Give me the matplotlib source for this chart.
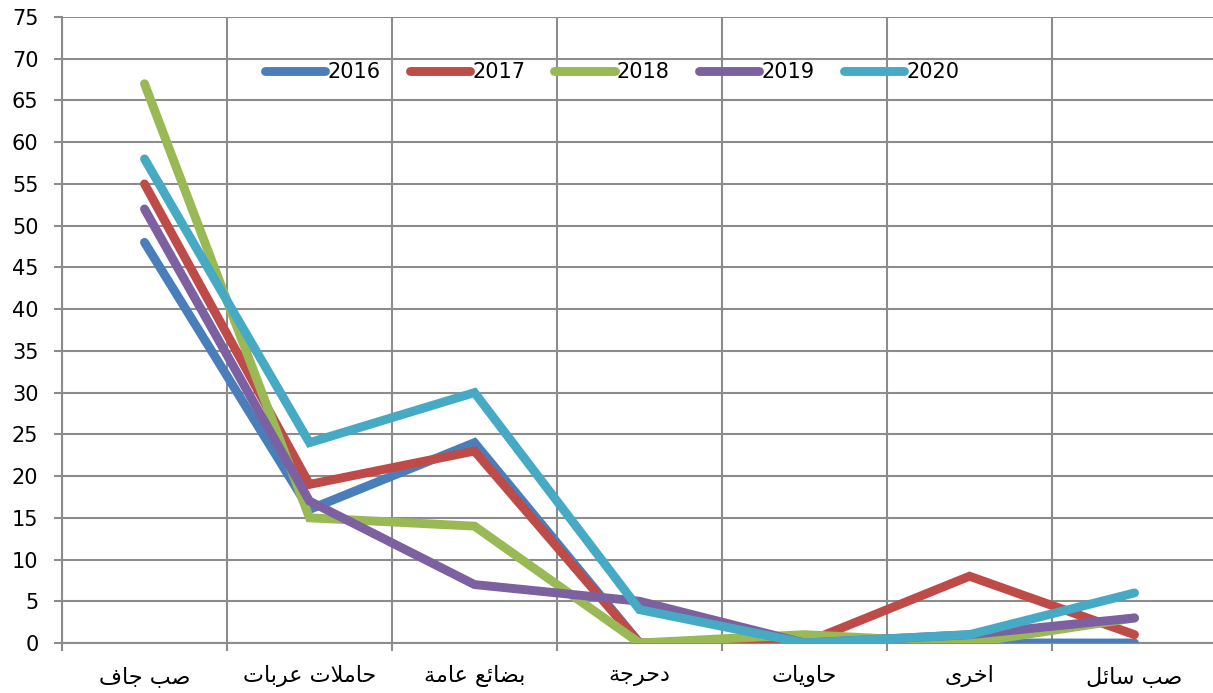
import matplotlib
matplotlib.use("Agg")
import matplotlib.pyplot as plt
import numpy as np

# categories (Arabic), series per year
categories = ['صب جاف', 'حاملات عربات', 'بضائع عامة', 'دحرجة', 'حاويات', 'اخرى', 'صب سائل']
years = ['2016', '2017', '2018', '2019', '2020']
v2016 = [48, 16, 24, 0, 0, 0, 0]
v2017 = [55, 19, 23, 0, 0, 8, 1]
v2018 = [67, 15, 14, 0, 1, 0, 3]
v2019 = [52, 17, 7, 5, 0, 1, 3]
v2020 = [58, 24, 30, 4, 0, 1, 6]
colors = ['#4A7EBB', '#BE4B48', '#98B954', '#7D60A0', '#46AAC5']
yticks = list(range(0, 80, 5))

# minimal Arabic shaping (presentation forms) since matplotlib does no shaping/bidi
FORMS = {
    'ا': ('\uFE8D', '\uFE8E', None, None),
    'ب': ('\uFE8F', '\uFE90', '\uFE91', '\uFE92'),
    'ة': ('\uFE93', '\uFE94', None, None),
    'ت': ('\uFE95', '\uFE96', '\uFE97', '\uFE98'),
    'ج': ('\uFE9D', '\uFE9E', '\uFE9F', '\uFEA0'),
    'ح': ('\uFEA1', '\uFEA2', '\uFEA3', '\uFEA4'),
    'خ': ('\uFEA5', '\uFEA6', '\uFEA7', '\uFEA8'),
    'د': ('\uFEA9', '\uFEAA', None, None),
    'ر': ('\uFEAD', '\uFEAE', None, None),
    'س': ('\uFEB1', '\uFEB2', '\uFEB3', '\uFEB4'),
    'ص': ('\uFEB9', '\uFEBA', '\uFEBB', '\uFEBC'),
    'ض': ('\uFEBD', '\uFEBE', '\uFEBF', '\uFEC0'),
    'ع': ('\uFEC9', '\uFECA', '\uFECB', '\uFECC'),
    'ف': ('\uFED1', '\uFED2', '\uFED3', '\uFED4'),
    'ل': ('\uFEDD', '\uFEDE', '\uFEDF', '\uFEE0'),
    'م': ('\uFEE1', '\uFEE2', '\uFEE3', '\uFEE4'),
    'و': ('\uFEED', '\uFEEE', None, None),
    'ى': ('\uFEEF', '\uFEF0', None, None),
    'ي': ('\uFEF1', '\uFEF2', '\uFEF3', '\uFEF4'),
    'ئ': ('\uFE89', '\uFE8A', '\uFE8B', '\uFE8C'),
}


def shape(text):
    res = []
    n = len(text)
    i = 0
    while i < n:
        c = text[i]
        prev = text[i - 1] if i > 0 else None
        link_prev = prev in FORMS and FORMS[prev][2] is not None and c in FORMS
        if c == 'ل' and i + 1 < n and text[i + 1] == 'ا':
            res.append('\uFEFC' if link_prev else '\uFEFB')
            i += 2
            continue
        f = FORMS.get(c)
        if f is None:
            res.append(c)
            i += 1
            continue
        nxt = text[i + 1] if i + 1 < n else None
        link_next = f[2] is not None and nxt in FORMS
        if link_prev and link_next:
            g = f[3]
        elif link_prev:
            g = f[1]
        elif link_next:
            g = f[2]
        else:
            g = f[0]
        res.append(g)
        i += 1
    return ''.join(res)[::-1]


fig = plt.figure(figsize=(12.13, 6.93), dpi=100)
ax = fig.add_axes([62 / 1213, 50 / 693, 1155 / 1213, 626 / 693])

x = np.arange(len(categories))
for vals, yr, c in zip([v2016, v2017, v2018, v2019, v2020], years, colors):
    ax.plot(x, vals, color=c, lw=6.4, label=yr, solid_capstyle='round',
            solid_joinstyle='miter', zorder=3)

grid_c = '#8C8C8C'
ax.set_xlim(-0.5, len(categories) - 0.5)
ax.set_ylim(0, 75)
ax.set_yticks(yticks)
ax.set_xticks(x)
ax.set_xticklabels([shape(c) for c in categories], fontsize=16, family='DejaVu Sans',
                   va='center')
ax.set_xticks(np.arange(-0.5, len(categories), 1), minor=True)

ax.grid(axis='y', which='major', color=grid_c, lw=1.5)
ax.grid(axis='x', which='minor', color=grid_c, lw=1.5)
ax.tick_params(axis='x', which='major', length=0, pad=24)
ax.tick_params(axis='x', which='minor', length=6, width=1.5, color=grid_c)
ax.tick_params(axis='y', length=6, width=1.5, color=grid_c, labelsize=15, pad=11)
for s in ['top', 'right']:
    ax.spines[s].set_visible(False)
for s in ['left', 'bottom']:
    ax.spines[s].set_color(grid_c)
    ax.spines[s].set_linewidth(1.5)

ax.legend(loc='center', bbox_to_anchor=(612 / 1213, 1 - 72 / 693),
          bbox_transform=fig.transFigure, ncol=5, frameon=False,
          fontsize=15, handlelength=2.9, handletextpad=0.1, columnspacing=1.4)

fig.savefig('out.png', dpi=100)
